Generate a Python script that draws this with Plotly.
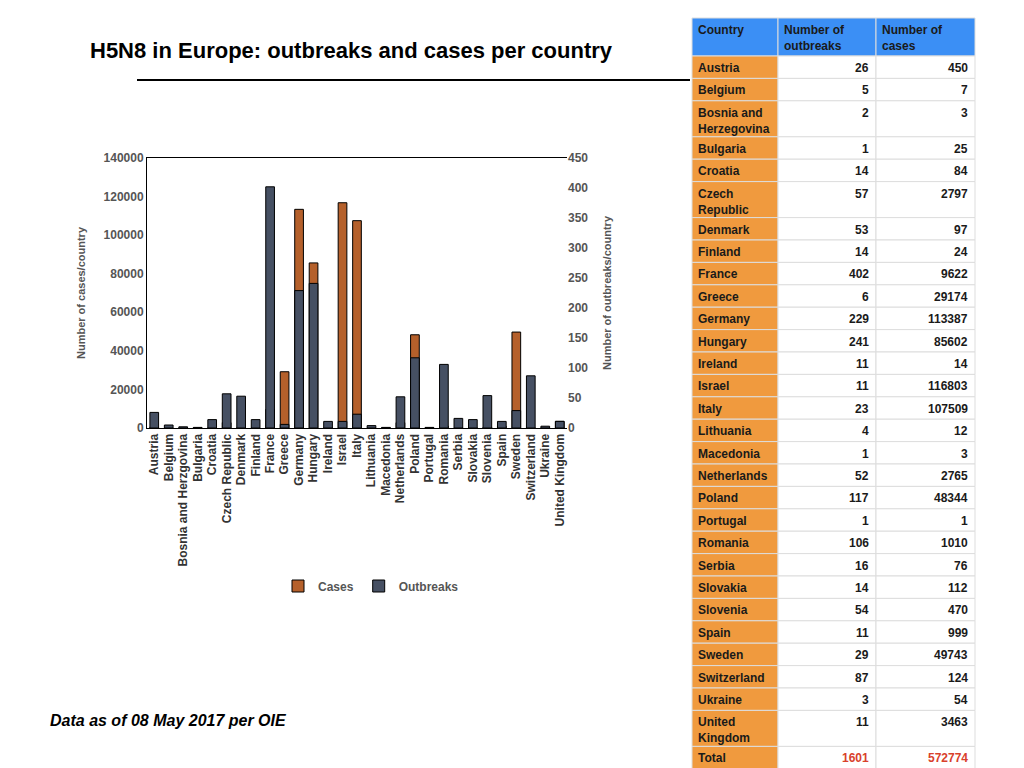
import plotly.graph_objects as go

countries = ["Austria", "Belgium", "Bosnia and Herzgovina", "Bulgaria", "Croatia", "Czech Republic",
             "Denmark", "Finland", "France", "Greece", "Germany", "Hungary", "Ireland", "Israel", "Italy",
             "Lithuania", "Macedonia", "Netherlands", "Poland", "Portugal", "Romania", "Serbia", "Slovakia",
             "Slovenia", "Spain", "Sweden", "Switzerland", "Ukraine", "United Kingdom"]
outbreaks = [26, 5, 2, 1, 14, 57, 53, 14, 402, 6, 229, 241, 11, 11, 23, 4, 1, 52, 117, 1, 106, 16, 14,
             54, 11, 29, 87, 3, 11]
cases = [450, 7, 3, 25, 84, 2797, 97, 24, 9622, 29174, 113387, 85602, 14, 116803, 107509, 12, 3, 2765,
         48344, 1, 1010, 76, 112, 470, 999, 49743, 124, 54, 3463]

# row labels as written in the table
table_countries = ["Austria", "Belgium", "Bosnia and<br>Herzegovina", "Bulgaria", "Croatia", "Czech<br>Republic",
                   "Denmark", "Finland", "France", "Greece", "Germany", "Hungary", "Ireland", "Israel", "Italy",
                   "Lithuania", "Macedonia", "Netherlands", "Poland", "Portugal", "Romania", "Serbia", "Slovakia",
                   "Slovenia", "Spain", "Sweden", "Switzerland", "Ukraine", "United<br>Kingdom"]
header = ["Country", "Number of<br>outbreaks", "Number of<br>cases"]
total_outbreaks = 1601
total_cases = 572774

ORANGE = '#b5602b'
DARK = '#465063'
FONT = 'Liberation Sans, Arial, sans-serif'
OX, OY = 8, 8  # page offset of the plot div


def px(x):
    return (x - OX) / 1024


def py(y):
    return 1 - (y - OY) / 768


fig = go.Figure()
fig.add_trace(go.Bar(x=countries, y=cases, name='Cases', marker=dict(color=ORANGE, line=dict(color='black', width=1)),
                     offsetgroup='a', width=0.6, yaxis='y'))
fig.add_trace(go.Bar(x=countries, y=outbreaks, name='Outbreaks', marker=dict(color=DARK, line=dict(color='black', width=1)),
                     offsetgroup='a', width=0.6, yaxis='y2'))

# table drawn by hand so row heights match the slide
shapes = [dict(type='line', xref='paper', yref='paper', x0=px(137), x1=px(690),
               y0=py(80), y1=py(80), line=dict(color='black', width=2))]
annotations = []
cols = [692, 778, 876, 975]


def add_row(y0, y1, texts, fills, colors):
    for i in range(3):
        shapes.append(dict(type='rect', xref='paper', yref='paper', x0=px(cols[i]), x1=px(cols[i + 1]),
                           y0=py(y1), y1=py(y0), fillcolor=fills[i], line=dict(color='#dddddd', width=1),
                           layer='below'))
        right = i > 0 and fills[i] == 'white'
        annotations.append(dict(text=f'<b>{texts[i]}</b>', xref='paper', yref='paper',
                                x=px(cols[i + 1] - 5) if right else px(cols[i] + 4), y=py(y0 + 3),
                                xanchor='right' if right else 'left', yanchor='top', align='right' if right else 'left',
                                showarrow=False, font=dict(size=12, color=colors[i], family=FONT)))


add_row(18, 56, header, ['#3b8ff5'] * 3, ['#1a1a1a'] * 3)
y = 56
for c, o, k in zip(table_countries, outbreaks, cases):
    h = 36 if '<br>' in c else 22.4
    add_row(y, y + h, [c, o, k], ['#f09a3e', 'white', 'white'], ['#1a1a1a'] * 3)
    y += h
add_row(y, y + 24, ['Total', total_outbreaks, total_cases], ['#f09a3e', 'white', 'white'],
        ['#1a1a1a', '#d9412b', '#d9412b'])

annotations += [
    dict(text='<b>H5N8 in Europe: outbreaks and cases per country</b>', x=px(88), y=py(50),
         xref='paper', yref='paper', xanchor='left', yanchor='middle', showarrow=False,
         font=dict(size=22, color='black')),
    dict(text='<b><i>Data as of 08 May 2017 per OIE</i></b>', x=px(48), y=py(720),
         xref='paper', yref='paper', xanchor='left', yanchor='middle', showarrow=False,
         font=dict(size=16, color='black')),
]

fig.update_layout(
    width=1024, height=768, paper_bgcolor='white', plot_bgcolor='white',
    margin=dict(l=0, r=0, t=0, b=0), barmode='overlay',
    font=dict(family=FONT, color='#555555', size=12),
    xaxis=dict(domain=[px(147), px(567)], tickangle=-90, showline=True, linecolor='black', mirror=True,
               tickfont=dict(size=12, color='#333333', weight='bold'), showgrid=False, automargin=False),
    yaxis=dict(range=[0, 140000], dtick=20000, showgrid=False, showline=True, linecolor='black',
               domain=[py(428), py(158)], automargin=False,
               title=dict(text='<b>Number of cases/country</b>', font=dict(size=11)),
               tickfont=dict(size=12, weight='bold'), tickformat='d', ticks=''),
    yaxis2=dict(range=[0, 450], dtick=50, overlaying='y', side='right', showgrid=False, automargin=False,
                title=dict(text='<b>Number of outbreaks/country</b>', font=dict(size=11)),
                tickfont=dict(size=12, weight='bold'), ticks=''),
    legend=dict(orientation='h', x=px(278), y=py(586), xanchor='left', yanchor='middle',
                font=dict(size=12, weight='bold'), itemwidth=30),
    annotations=annotations,
    shapes=shapes,
)

fig.write_html("out.html")
